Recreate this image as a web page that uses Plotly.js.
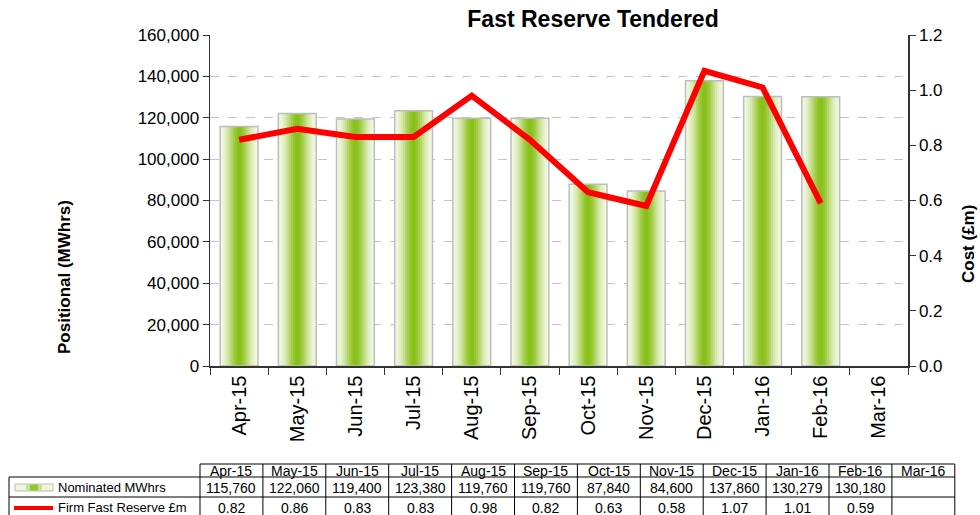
<!DOCTYPE html>
<html><head><meta charset="utf-8">
<script src="https://cdn.plot.ly/plotly-3.0.1.min.js"></script>
<style>html,body{margin:0;padding:0;background:#fff}#chart{width:980px;height:515px}</style>
</head><body><div id="chart"></div>
<script>
const months = ['Apr-15','May-15','Jun-15','Jul-15','Aug-15','Sep-15','Oct-15','Nov-15','Dec-15','Jan-16','Feb-16','Mar-16'];
const nominatedMWh = [115760,122060,119400,123380,119760,119760,87840,84600,137860,130279,130180,null];
const firmCostGBPm = [0.82,0.86,0.83,0.83,0.98,0.82,0.63,0.58,1.07,1.01,0.59,null];
const nominatedLabel = 'Nominated MWhrs';
const costLabel = 'Firm Fast Reserve £m';
const chartTitle = 'Fast Reserve Tendered';
const leftTitle = 'Positional (MWhrs)';
const rightTitle = 'Cost (£m)';

const FONT = 'Liberation Sans, Arial, sans-serif';
const W = 980, H = 515, L = 210, R = 72, T = 35, B = 149;
const pw = W - L - R, ph = H - T - B;
const px = x => (x - L) / pw;
const py = y => (H - B - y) / ph;

// gradient layers for bars (outer -> centre)
const layerColors = ['#f2f8e4','#ebf4d6','#e2efc4','#d6e8ab','#c6df8c','#b3d66a','#a1cd48','#93c62e','#89c11a'];
const outerW = 0.65;
const traces = [];
layerColors.forEach((c, k) => {
  const w = outerW * (1 - k / layerColors.length);
  traces.push({type:'bar', x: months, y: nominatedMWh, width: months.map(() => w),
    marker:{color:c, line:{width:0}}, hoverinfo:'skip', showlegend:false});
});
traces.push({type:'bar', x: months, y: nominatedMWh, width: months.map(() => outerW),
  marker:{color:'rgba(0,0,0,0)', line:{color:'#bdbdbd', width:1.5}}, hoverinfo:'skip', showlegend:false, name: nominatedLabel});
traces.push({type:'scatter', mode:'lines', x: months, y: firmCostGBPm, yaxis:'y2',
  line:{color:'#ff0000', width:6}, hoverinfo:'skip', showlegend:false, name: costLabel});

// data table beneath
const tblL = 200, colW = 62.9, legL = 9;
const yTop = 464, yR1 = 477, yR2 = 497, yBot = 530;
const shapes = [];
const lineStyle = {color:'#000', width:1};
shapes.push({type:'line', xref:'paper', yref:'paper', x0:px(tblL), x1:px(tblL + colW*months.length), y0:py(yTop), y1:py(yTop), line:lineStyle});
[yR1, yR2].forEach(y => shapes.push({type:'line', xref:'paper', yref:'paper', x0:px(legL), x1:px(tblL + colW*months.length), y0:py(y), y1:py(y), line:lineStyle}));
shapes.push({type:'line', xref:'paper', yref:'paper', x0:px(legL), x1:px(legL), y0:py(yR1), y1:py(yBot), line:lineStyle});
for (let i = 0; i <= months.length; i++) {
  const x = tblL + i*colW;
  shapes.push({type:'line', xref:'paper', yref:'paper', x0:px(x), x1:px(x), y0:py(yTop), y1:py(yBot), line:lineStyle});
}
// legend swatches
const swL = 15, swR = 53;
shapes.push({type:'rect', xref:'paper', yref:'paper', x0:px(swL), x1:px(swR), y0:py(491), y1:py(484), fillcolor:'#eef6dc', line:{color:'#bdbdbd', width:1}});
shapes.push({type:'rect', xref:'paper', yref:'paper', x0:px(26), x1:px(42), y0:py(490.5), y1:py(484.5), fillcolor:'#c6df8c', line:{width:0}});
shapes.push({type:'rect', xref:'paper', yref:'paper', x0:px(30), x1:px(38), y0:py(490.5), y1:py(484.5), fillcolor:'#93c62e', line:{width:0}});
shapes.push({type:'line', xref:'paper', yref:'paper', x0:px(swL-1), x1:px(swR), y0:py(508), y1:py(508), line:{color:'#ff0000', width:4}});

const annotations = [];
const cellFont = {family: FONT, size: 14, color:'#000'};
const labelFont = {family: FONT, size: 13, color:'#000'};
months.forEach((m, i) => {
  const cx = px(tblL + (i + 0.5)*colW);
  annotations.push({xref:'paper', yref:'paper', x:cx, y:py(470.5), text:m, showarrow:false, font:cellFont, xanchor:'center', yanchor:'middle'});
  if (nominatedMWh[i] !== null)
    annotations.push({xref:'paper', yref:'paper', x:cx, y:py(487.5), text:nominatedMWh[i].toLocaleString('en-GB'), showarrow:false, font:cellFont, xanchor:'center', yanchor:'middle'});
  if (firmCostGBPm[i] !== null)
    annotations.push({xref:'paper', yref:'paper', x:cx, y:py(507.5), text:firmCostGBPm[i].toFixed(2), showarrow:false, font:cellFont, xanchor:'center', yanchor:'middle'});
});
annotations.push({xref:'paper', yref:'paper', x:px(56), y:py(487.5), text:nominatedLabel, showarrow:false, font:labelFont, xanchor:'left', yanchor:'middle'});
annotations.push({xref:'paper', yref:'paper', x:px(56), y:py(507.5), text:costLabel, showarrow:false, font:labelFont, xanchor:'left', yanchor:'middle'});
// axis titles
annotations.push({xref:'paper', yref:'paper', x:px(64), y:py(277), text:'<b>' + leftTitle + '</b>', textangle:-90, showarrow:false, font:{family:FONT, size:17, color:'#000'}, xanchor:'center', yanchor:'middle'});
annotations.push({xref:'paper', yref:'paper', x:px(968), y:py(244), text:'<b>' + rightTitle + '</b>', textangle:-90, showarrow:false, font:{family:FONT, size:17, color:'#000'}, xanchor:'center', yanchor:'middle'});

const layout = {
  width: W, height: H,
  margin: {l:L, r:R, t:T, b:B, pad:0},
  paper_bgcolor:'#fff', plot_bgcolor:'#fff',
  font: {family: FONT, color:'#000'},
  barmode: 'overlay',
  showlegend: false,
  title: {text:'<b>' + chartTitle + '</b>', font:{family:FONT, size:23, color:'#000'}, xref:'container', yref:'container', x:593/W, y:1 - 19/H, xanchor:'center', yanchor:'middle'},
  xaxis: {type:'category', range:[-0.5, months.length - 0.5], tickson:'boundaries', ticks:'outside', ticklen:7, tickcolor:'#333',
    tickangle:-90, tickfont:{family:FONT, size:20, color:'#000'}, showline:true, linecolor:'#333', linewidth:1.5, showgrid:false, fixedrange:true},
  yaxis: {range:[0,160000], dtick:20000, tickformat:',d', ticks:'outside', ticklen:6, tickcolor:'#333', showline:true, linecolor:'#333', linewidth:1.5,
    showgrid:true, gridcolor:'#c4c4c4', griddash:'dash', gridwidth:1, zeroline:false, tickfont:{family:FONT, size:17, color:'#000'}, fixedrange:true},
  yaxis2: {range:[0,1.2], dtick:0.2, tickformat:'.1f', overlaying:'y', side:'right', ticks:'outside', ticklen:6, tickcolor:'#333', showline:true, linecolor:'#333', linewidth:1.5,
    showgrid:false, zeroline:false, tickfont:{family:FONT, size:17, color:'#000'}, fixedrange:true},
  shapes: shapes,
  annotations: annotations
};
Plotly.newPlot('chart', traces, layout, {displayModeBar:false, staticPlot:true});
</script>
</body></html>
